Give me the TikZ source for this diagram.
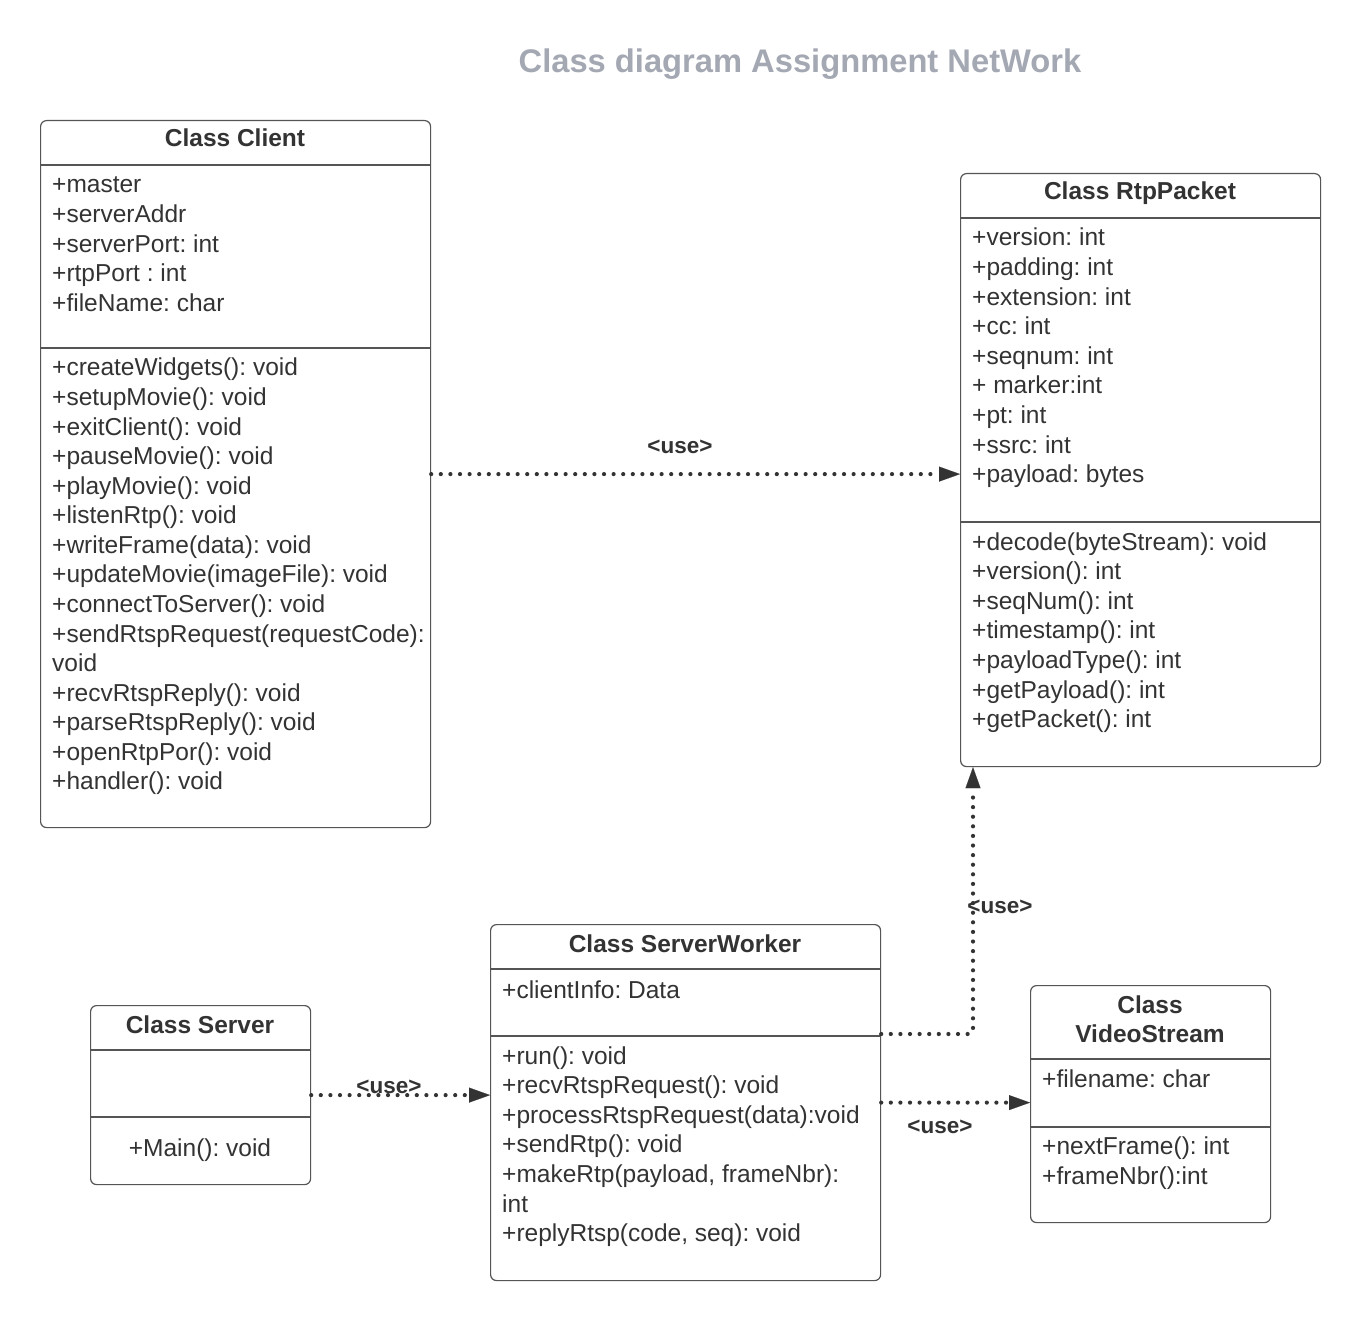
\documentclass[tikz,border=0pt]{standalone}
\usepackage{fontspec}
\setmainfont{Liberation Sans}
\usetikzlibrary{arrows.meta}
\frenchspacing
\definecolor{textc}{RGB}{51,51,51}
\definecolor{linec}{RGB}{85,85,85}
\definecolor{dotc}{RGB}{51,51,51}
\definecolor{titlec}{RGB}{163,168,179}
\tikzset{
  box/.style={draw=linec, line width=1.2pt, rounded corners=6pt, anchor=north west, inner sep=0pt},
  sep/.style={draw=linec, line width=1.2pt},
  txt/.style={anchor=base west, inner sep=0pt, text=textc, font=\fontsize{24.5}{29.6}\selectfont\frenchspacing},
  hd/.style={anchor=base, inner sep=0pt, text=textc, font=\bfseries\fontsize{24.5}{29.6}\selectfont},
  lbl/.style={anchor=base, inner sep=0pt, text=textc, font=\bfseries\fontsize{22.5}{27}\selectfont},
  usearrow/.style={draw=dotc, line width=4.2pt, dash pattern=on 0pt off 9.6pt, line cap=round,
    -{Triangle[length=21pt,width=15pt,line width=0.1pt]}},
}
\begin{document}
\begin{tikzpicture}[x=1pt,y=-1pt]
\useasboundingbox[fill=white] (0,0) rectangle (1360,1321);

% title
\node[anchor=base, inner sep=0pt, text=titlec, font=\bfseries\fontsize{32.7}{38}\selectfont] (title) at (800,73) {Class diagram Assignment NetWork};

% ---------- Client ----------
\node[box, minimum width=390pt, minimum height=707pt] (client) at (40,120) {};
\draw[sep] ([yshift=-45pt]client.north west) -- ([yshift=-45pt]client.north east);
\draw[sep] ([yshift=-228pt]client.north west) -- ([yshift=-228pt]client.north east);
\node[hd] (clientT) at (235,147) {Class Client};
\foreach \t [count=\i from 0] in {{+master},{+serverAddr},{+serverPort: int},{+rtpPort : int},{+fileName: char}}
  \node[txt] (clientA\i) at (52,193+\i*29.6) {\t};
\foreach \t [count=\i from 0] in {{+createWidgets(): void},{+setupMovie(): void},{+exitClient(): void},{+pauseMovie(): void},{+playMovie(): void},{+listenRtp(): void},{+writeFrame(data): void},{+updateMovie(imageFile): void},{+connectToServer(): void},{+sendRtspRequest(requestCode):},{void},{+recvRtspReply(): void},{+parseRtspReply(): void},{+openRtpPor(): void},{+handler(): void}}
  \node[txt] (clientM\i) at (52,376+\i*29.57) {\t};

% ---------- RtpPacket ----------
\node[box, minimum width=360pt, minimum height=593pt] (rtp) at (960,173) {};
\draw[sep] ([yshift=-45pt]rtp.north west) -- ([yshift=-45pt]rtp.north east);
\draw[sep] ([yshift=-349pt]rtp.north west) -- ([yshift=-349pt]rtp.north east);
\node[hd] (rtpT) at (1140,200) {Class RtpPacket};
\foreach \t [count=\i from 0] in {{+version: int},{+padding: int},{+extension: int},{+cc: int},{+seqnum: int},{+ marker:int},{+pt: int},{+ssrc: int},{+payload: bytes}}
  \node[txt] (rtpA\i) at (972,246+\i*29.6) {\t};
\foreach \t [count=\i from 0] in {{+decode(byteStream): void},{+version(): int},{+seqNum(): int},{+timestamp(): int},{+payloadType(): int},{+getPayload(): int},{+getPacket(): int}}
  \node[txt] (rtpM\i) at (972,550+\i*29.6) {\t};

% ---------- ServerWorker ----------
\node[box, minimum width=390pt, minimum height=356pt] (sw) at (490,924) {};
\draw[sep] ([yshift=-45pt]sw.north west) -- ([yshift=-45pt]sw.north east);
\draw[sep] ([yshift=-112pt]sw.north west) -- ([yshift=-112pt]sw.north east);
\node[hd] (swT) at (685,952) {Class ServerWorker};
\node[txt] (swA0) at (502,998) {+clientInfo: Data};
\foreach \t [count=\i from 0] in {{+run(): void},{+recvRtspRequest(): void},{+processRtspRequest(data):void},{+sendRtp(): void},{+makeRtp(payload, frameNbr):},{int},{+replyRtsp(code, seq): void}}
  \node[txt] (swM\i) at (502,1064+\i*29.6) {\t};

% ---------- Server ----------
\node[box, minimum width=220pt, minimum height=179pt] (server) at (90,1005) {};
\draw[sep] ([yshift=-45pt]server.north west) -- ([yshift=-45pt]server.north east);
\draw[sep] ([yshift=-112pt]server.north west) -- ([yshift=-112pt]server.north east);
\node[hd] (serverT) at (200,1033) {Class Server};
\node[anchor=base, inner sep=0pt, text=textc, font=\fontsize{24.5}{29.6}\selectfont\frenchspacing] (serverM0) at (200,1156) {+Main(): void};

% ---------- VideoStream ----------
\node[box, minimum width=240pt, minimum height=237pt] (vs) at (1030,985) {};
\draw[sep] ([yshift=-74pt]vs.north west) -- ([yshift=-74pt]vs.north east);
\draw[sep] ([yshift=-142pt]vs.north west) -- ([yshift=-142pt]vs.north east);
\node[hd] (vsT1) at (1150,1013) {Class};
\node[hd] (vsT2) at (1150,1042) {VideoStream};
\node[txt] (vsA0) at (1042,1087) {+filename: char};
\node[txt] (vsM0) at (1042,1154) {+nextFrame(): int};
\node[txt] (vsM1) at (1042,1184) {+frameNbr():int};

% ---------- connectors ----------
\draw[usearrow] (client.east) -- (client.east -| rtp.west);
\node[lbl] (l1) at (680,453) {<use>};

\coordinate (swOut) at ([yshift=-110pt]sw.north east);
\coordinate (rtpIn) at ([xshift=13pt]rtp.south west);
\draw[usearrow, rounded corners=4pt] (swOut) -| (rtpIn);
\node[lbl] (l2) at (1000,913) {<use>};

\draw[usearrow] (server.east) -- (server.east -| sw.west);
\node[lbl] (l3) at (389,1093) {<use>};

\draw[usearrow] (sw.east) -- (sw.east -| vs.west);
\node[lbl] (l4) at (940,1133) {<use>};
\end{tikzpicture}
\end{document}
